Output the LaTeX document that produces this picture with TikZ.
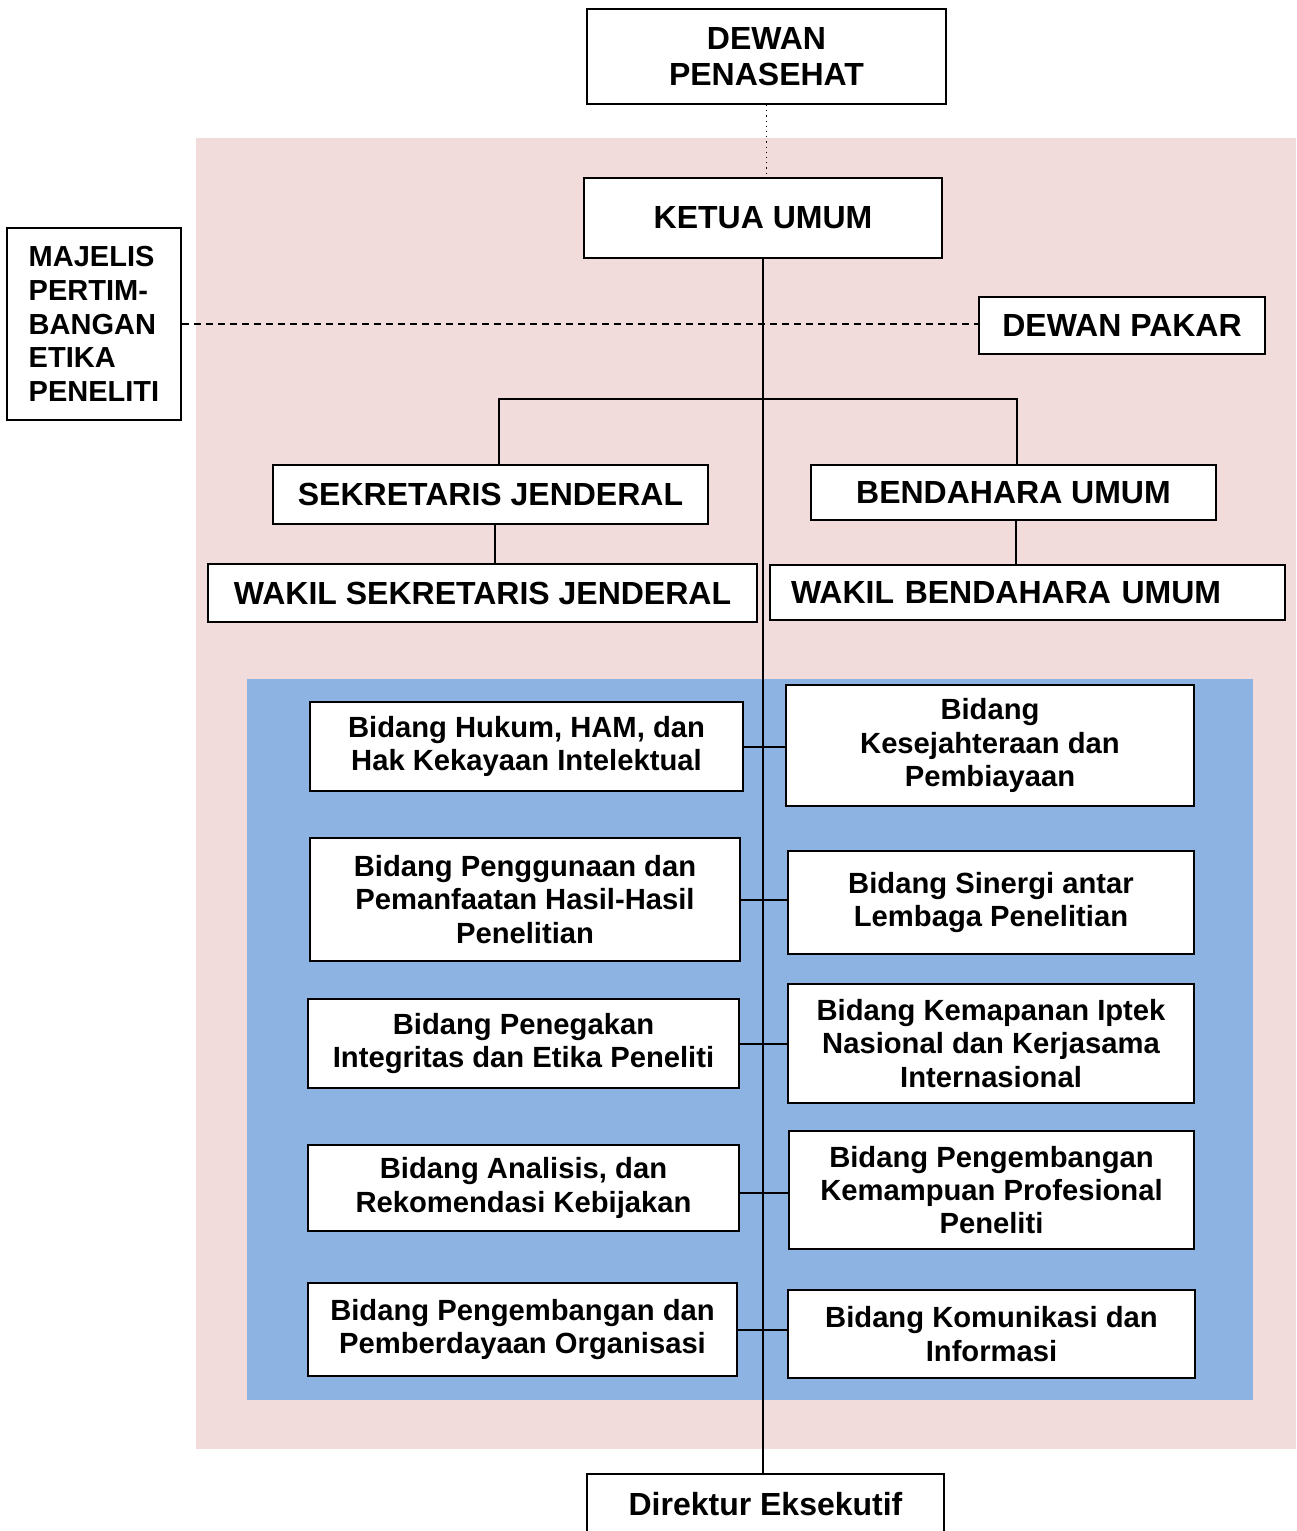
\documentclass[tikz,border=0pt]{standalone}
\usepackage{fontspec}
\setmainfont{Liberation Sans}
\definecolor{latarpink}{RGB}{242,220,219}
\definecolor{latarbiru}{RGB}{141,179,226}
\tikzstyle{kotak} = [draw, fill=white, rectangle, line width=0.9pt, align=center, inner sep=2pt, font=\bfseries\fontsize{14.6}{16.6}\selectfont]
\tikzstyle{judul} = [kotak, font=\bfseries\fontsize{16}{18}\selectfont]
\tikzstyle{garis} = [line width=1pt]

\begin{document}
\begin{tikzpicture}[x=0.5pt, y=-0.5pt]
    \clip (0,0) rectangle (1296,1531);
    % latar belakang
    \fill [latarpink] (196,138) rectangle (1296,1449);
    \fill [latarbiru] (247,679) rectangle (1253,1400);

    % pimpinan
    \node [judul, minimum width=179.5pt, minimum height=47.5pt] (penasehat) at (766.5,56.5) {DEWAN\\PENASEHAT};
    \node [judul, minimum width=179pt, minimum height=40pt] (ketua) at (763,218) {KETUA UMUM};
    \node [kotak, align=left, minimum width=87pt, minimum height=96pt, font=\bfseries\fontsize{14.5}{16.85}\selectfont] (majelis) at (94,324) {MAJELIS\\PERTIM-\\BANGAN\\ETIKA\\PENELITI};
    \node [judul, minimum width=143pt, minimum height=28.5pt] (pakar) at (1122,325.5) {DEWAN PAKAR};
    \node [judul, minimum width=217.5pt, minimum height=29.5pt] (sekjen) at (490.5,494.5) {SEKRETARIS JENDERAL};
    \node [judul, minimum width=202.5pt, minimum height=27.5pt] (bendahara) at (1013.5,492.5) {BENDAHARA UMUM};
    \node [judul, minimum width=274.5pt, minimum height=29pt] (wsekjen) at (482.5,593) {WAKIL SEKRETARIS JENDERAL};
    \node [judul, align=left, text width=236.5pt, inner xsep=10.5pt, minimum height=27.5pt] (wbendahara) at (1027.5,592.5) {WAKIL BENDAHARA UMUM};

    % bidang kiri
    \node [kotak, minimum width=216.5pt, minimum height=44.5pt] (bidang1) at (526.5,746.5) {Bidang Hukum, HAM, dan\\Hak Kekayaan Intelektual};
    \node [kotak, minimum width=215pt, minimum height=61.5pt] (bidang2) at (525,899.5) {Bidang Penggunaan dan\\Pemanfaatan Hasil-Hasil\\Penelitian};
    \node [kotak, minimum width=215.5pt, minimum height=44.5pt] (bidang3) at (523.5,1043.5) {Bidang Penegakan\\Integritas dan Etika Peneliti};
    \node [kotak, minimum width=215.5pt, minimum height=43pt] (bidang4) at (523.5,1188) {Bidang Analisis, dan\\Rekomendasi Kebijakan};
    \node [kotak, minimum width=214.5pt, minimum height=46.5pt] (bidang5) at (522.5,1329.5) {Bidang Pengembangan dan\\Pemberdayaan Organisasi};

    % bidang kanan
    \node [kotak, minimum width=204pt, minimum height=60.5pt] (bidang6) at (990,745.5) {Bidang\\Kesejahteraan dan\\Pembiayaan};
    \node [kotak, minimum width=203pt, minimum height=51.5pt] (bidang7) at (991,902.5) {Bidang Sinergi antar\\Lembaga Penelitian};
    \node [kotak, minimum width=203pt, minimum height=59.5pt] (bidang8) at (991,1043.5) {Bidang Kemapanan Iptek\\Nasional dan Kerjasama\\Internasional};
    \node [kotak, minimum width=202.5pt, minimum height=59pt] (bidang9) at (991.5,1190) {Bidang Pengembangan\\Kemampuan Profesional\\Peneliti};
    \node [kotak, minimum width=203.5pt, minimum height=44pt] (bidang10) at (991.5,1334) {Bidang Komunikasi dan\\Informasi};

    \node [judul, minimum width=178.5pt, minimum height=30pt] (direktur) at (765.5,1504) {Direktur Eksekutif};

    % garis
    \draw [line width=0.6pt, dotted] (penasehat.south) -- (penasehat.south |- ketua.north);
    \draw [line width=0.7pt, dash pattern=on 3.5pt off 2.5pt] (majelis.east) -- (majelis.east -| pakar.west);
    \draw [garis] (ketua.south) -- (ketua.south |- direktur.north);
    \coordinate (cabangkiri) at (499,399);
    \coordinate (cabangkanan) at (1017,399);
    \draw [garis] (cabangkiri |- sekjen.north) -- (cabangkiri) -- (cabangkanan) -- (cabangkanan |- bendahara.north);
    \draw [garis] ([xshift=2pt]sekjen.south) -- ([xshift=2pt]sekjen.south |- wsekjen.north);
    \draw [garis] ([xshift=1pt]bendahara.south) -- ([xshift=1pt]bendahara.south |- wbendahara.north);
    \draw [garis] (bidang1.east) -- (bidang1.east -| bidang6.west);
    \draw [garis] (bidang2.east) -- (bidang2.east -| bidang7.west);
    \draw [garis] (bidang3.east) -- (bidang3.east -| bidang8.west);
    \draw [garis] ([yshift=-2.5pt]bidang4.east) -- ([yshift=-2.5pt]bidang4.east -| bidang9.west);
    \draw [garis] (bidang5.east) -- (bidang5.east -| bidang10.west);
\end{tikzpicture}
\end{document}
